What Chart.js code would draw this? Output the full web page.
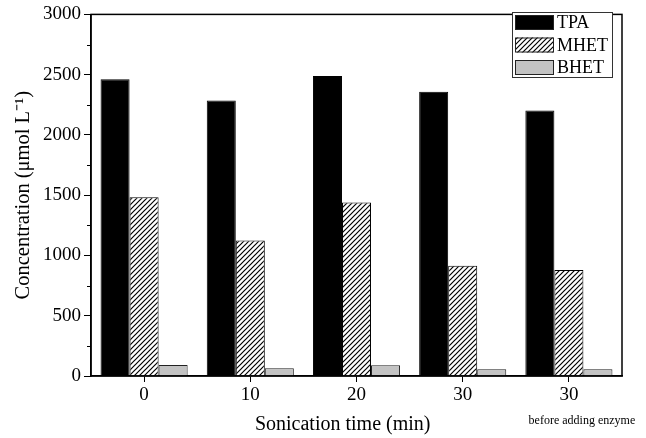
<!DOCTYPE html>
<html><head><meta charset="utf-8">
<script src="https://cdn.jsdelivr.net/npm/chart.js@4.4.0/dist/chart.umd.min.js"></script>
<style>html,body{margin:0;padding:0;background:#fff}#wrap{width:646px;height:438px}</style>
</head><body><div id="wrap"><canvas id="c" width="646" height="438"></canvas></div>
<script>
const categories = ['0', '10', '20', '30', '30'];
const categoryNotes = ['', '', '', '', 'before adding enzyme'];
const seriesNames = ['TPA', 'MHET', 'BHET'];
const tpa = [2462, 2285, 2488, 2358, 2203];
const mhet = [1482, 1125, 1440, 915, 880];
const bhet = [92, 65, 90, 55, 55];
const yTicks = [0, 500, 1000, 1500, 2000, 2500, 3000];
const xTitle = 'Sonication time (min)';

const FONT = "'Liberation Serif', 'Times New Roman', serif";

function hatch() {
  const s = 5, p = document.createElement('canvas');
  p.width = s; p.height = s;
  const g = p.getContext('2d');
  g.fillStyle = '#fff'; g.fillRect(0, 0, s, s);
  g.strokeStyle = '#000'; g.lineWidth = 1.2;
  g.beginPath();
  g.moveTo(0, s); g.lineTo(s, 0);
  g.moveTo(-s / 2, s / 2); g.lineTo(s / 2, -s / 2);
  g.moveTo(s / 2, s * 1.5); g.lineTo(s * 1.5, s / 2);
  g.stroke();
  return g.createPattern(p, 'repeat');
}
const hatchPat = hatch();

const framePlugin = {
  id: 'frame',
  afterDraw(chart) {
    const ctx = chart.ctx, a = chart.chartArea;
    const y = chart.scales.y, x = chart.scales.x;
    ctx.save();
    ctx.strokeStyle = '#000'; ctx.lineWidth = 1.5;
    ctx.strokeRect(a.left, a.top, a.right - a.left, a.bottom - a.top);
    // minor ticks
    ctx.lineWidth = 1;
    for (let v = 250; v < 3000; v += 500) {
      const py = Math.round(y.getPixelForValue(v)) + 0.5;
      ctx.beginPath(); ctx.moveTo(a.left - 4, py); ctx.lineTo(a.left, py); ctx.stroke();
    }
    ctx.fillStyle = '#000';
    ctx.textAlign = 'center'; ctx.textBaseline = 'middle';
    // x title
    ctx.font = '20px ' + FONT;
    ctx.fillText(xTitle, a.left + (a.right - a.left) * 0.474, 425);
    // notes under category labels
    ctx.font = '12px ' + FONT;
    categoryNotes.forEach((n, i) => {
      if (n) ctx.fillText(n, x.getPixelForValue(i) + 13, 421);
    });
    // legend
    const lx = 512, ly = 12, lw = 100, lh = 65;
    ctx.fillStyle = '#fff'; ctx.fillRect(lx, ly, lw, lh);
    ctx.strokeStyle = '#333'; ctx.lineWidth = 1;
    ctx.strokeRect(lx + 0.5, ly + 0.5, lw, lh);
    ctx.font = '18px ' + FONT; ctx.textAlign = 'left';
    chart.data.datasets.forEach((ds, i) => {
      const sy = ly + 3 + i * 22.5;
      ctx.fillStyle = ds.backgroundColor;
      ctx.fillRect(lx + 3, sy, 39, 15);
      ctx.strokeStyle = '#222'; ctx.lineWidth = 1;
      ctx.strokeRect(lx + 3.5, sy + 0.5, 38, 14);
      ctx.fillStyle = '#000';
      ctx.fillText(ds.label, lx + 45, sy + 8.5);
    });
    ctx.restore();
  }
};

new Chart(document.getElementById('c'), {
  type: 'bar',
  data: {
    labels: categories,
    datasets: [
      { label: seriesNames[0], data: tpa, backgroundColor: '#000', borderColor: '#000', borderWidth: 1 },
      { label: seriesNames[1], data: mhet, backgroundColor: hatchPat, borderColor: '#000', borderWidth: 1 },
      { label: seriesNames[2], data: bhet, backgroundColor: '#c3c3c3', borderColor: '#222', borderWidth: 1 }
    ]
  },
  options: {
    responsive: false,
    animation: false,
    devicePixelRatio: 1,
    layout: { padding: { left: 0, right: 24, top: 8, bottom: 0 } },
    datasets: { bar: { categoryPercentage: 0.82, barPercentage: 1.0 } },
    plugins: { legend: { display: false }, tooltip: { enabled: false } },
    scales: {
      x: {
        offset: true,
        grid: { display: true, drawOnChartArea: false, tickLength: 6, color: '#000', tickColor: '#000', offset: false },
        border: { display: true, color: '#000', width: 1.5 },
        ticks: { color: '#000', font: { family: FONT, size: 19 }, padding: 2, maxRotation: 0 },
        afterFit(s) { s.height = 62; }
      },
      y: {
        min: 0, max: 3000,
        afterBuildTicks(s) { s.ticks = yTicks.map(v => ({ value: v })); },
        grid: { display: true, drawOnChartArea: false, tickLength: 7, color: '#000', tickColor: '#000' },
        border: { display: true, color: '#000', width: 1.5 },
        ticks: { color: '#000', font: { family: FONT, size: 19 }, padding: 3, callback: v => String(v) },
        title: { display: true, text: 'Concentration (\u03BCmol L\u207B\u00B9)', color: '#000', font: { family: FONT, size: 20.5 }, padding: { top: 11, bottom: 4 } },
        afterFit(s) { s.width = 91; }
      }
    }
  },
  plugins: [framePlugin]
});
</script></body></html>
